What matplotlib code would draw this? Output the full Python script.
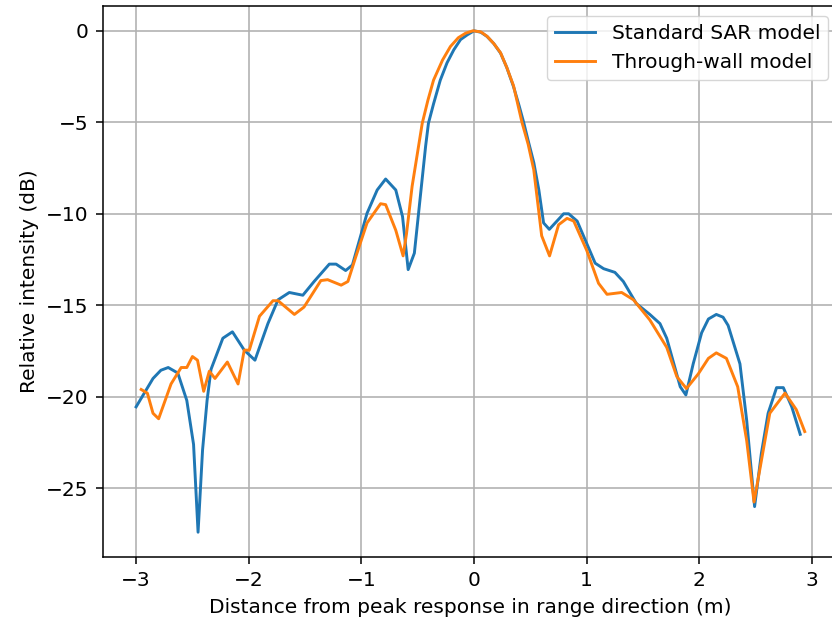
import matplotlib
matplotlib.use("Agg")
import matplotlib.pyplot as plt

# Range profiles (dB) of the point-target response
x_standard = [-3.00, -2.85, -2.78, -2.715, -2.63, -2.55, -2.49, -2.45, -2.41, -2.37,
              -2.335, -2.23, -2.145, -2.04, -1.945, -1.83, -1.74, -1.64, -1.52, -1.42,
              -1.285, -1.225, -1.14, -1.08, -0.95, -0.86, -0.785, -0.695, -0.635, -0.585,
              -0.53, -0.43, -0.405, -0.36, -0.30, -0.24, -0.18, -0.12, -0.06, 0.0,
              0.06, 0.115, 0.175, 0.235, 0.29, 0.35, 0.40, 0.44, 0.48, 0.53,
              0.575, 0.617, 0.668, 0.795, 0.84, 0.915, 1.075, 1.15, 1.25, 1.325,
              1.44, 1.56, 1.65, 1.71, 1.83, 1.88, 1.945, 2.02, 2.08, 2.15, 2.21, 2.255,
              2.36, 2.42, 2.49, 2.55, 2.61, 2.685, 2.745, 2.82, 2.895]
y_standard = [-20.55, -19.0, -18.55, -18.4, -18.7, -20.2, -22.6, -27.4, -22.9, -20.2,
              -18.5, -16.8, -16.45, -17.45, -18.0, -16.0, -14.7, -14.3, -14.45, -13.7,
              -12.75, -12.75, -13.1, -12.8, -9.97, -8.7, -8.1, -8.7, -10.15, -13.05,
              -12.15, -6.3, -5.05, -4.0, -2.7, -1.75, -1.04, -0.48, -0.22, 0.0,
              -0.08, -0.31, -0.7, -1.22, -2.0, -3.05, -4.1, -5.0, -6.0, -7.2,
              -8.7, -10.5, -10.85, -10.0, -10.0, -10.4, -12.7, -13.0, -13.2, -13.7,
              -14.9, -15.5, -16.0, -16.8, -19.45, -19.9, -18.2, -16.5, -15.75, -15.5, -15.65, -16.1,
              -18.2, -21.3, -26.0, -23.1, -20.9, -19.5, -19.5, -20.55, -22.05]

x_wall = [-2.955, -2.90, -2.85, -2.80, -2.69, -2.60, -2.55, -2.50, -2.455, -2.40,
          -2.35, -2.30, -2.19, -2.095, -2.04, -1.995, -1.905, -1.785, -1.74, -1.595,
          -1.51, -1.36, -1.30, -1.18, -1.12, -1.05, -0.95, -0.83, -0.785, -0.695,
          -0.63, -0.60, -0.55, -0.46, -0.41, -0.36, -0.28, -0.21, -0.14, -0.075,
          -0.01, 0.06, 0.115, 0.175, 0.235, 0.29, 0.35, 0.425, 0.48, 0.53,
          0.60, 0.67, 0.75, 0.825, 0.885, 1.00, 1.105, 1.18, 1.31, 1.415,
          1.56, 1.71, 1.80, 1.885, 1.99, 2.08, 2.15, 2.24, 2.34, 2.42, 2.485,
          2.55, 2.625, 2.76, 2.86, 2.935]
y_wall = [-19.6, -19.8, -20.9, -21.2, -19.3, -18.4, -18.4, -17.8, -18.0, -19.7,
          -18.6, -19.0, -18.1, -19.3, -17.45, -17.45, -15.6, -14.75, -14.75, -15.5,
          -15.1, -13.65, -13.6, -13.9, -13.7, -12.35, -10.5, -9.45, -9.5, -10.9,
          -12.3, -11.1, -8.5, -5.05, -3.8, -2.7, -1.6, -0.86, -0.38, -0.13,
          0.0, -0.06, -0.3, -0.7, -1.2, -2.0, -3.0, -5.0, -6.2, -7.6,
          -11.2, -12.3, -10.6, -10.25, -10.4, -12.0, -13.8, -14.4, -14.3, -14.7,
          -15.8, -17.3, -18.9, -19.55, -18.75, -17.9, -17.6, -17.9, -19.45, -22.4, -25.75,
          -23.5, -20.9, -19.8, -20.7, -21.9]

labels = ["Standard SAR model", "Through-wall model"]

plt.rcParams["font.family"] = ["DejaVu Sans"]
plt.rcParams["font.size"] = 14.5

fig = plt.figure(figsize=(8.32, 6.28), dpi=100)
ax = fig.add_axes([0.1234, 0.1126, 0.884, 0.8783])

ax.plot(x_standard, y_standard, color="#1f77b4", lw=2.1, label=labels[0])
ax.plot(x_wall, y_wall, color="#ff7f0e", lw=2.1, label=labels[1])

ax.set_xticks([-3, -2, -1, 0, 1, 2, 3])
ax.set_yticks([0, -5, -10, -15, -20, -25])
ax.grid(True, color="#b0b0b0", lw=1.15)
ax.tick_params(length=5, width=1.1, pad=5)
for s in ax.spines.values():
    s.set_linewidth(1.1)

ax.set_xlabel("Distance from peak response in range direction (m)", labelpad=5.5)
ax.set_ylabel("Relative intensity (dB)", labelpad=5.5)
ax.legend(loc="upper right")

fig.savefig("out.png", dpi=100)
